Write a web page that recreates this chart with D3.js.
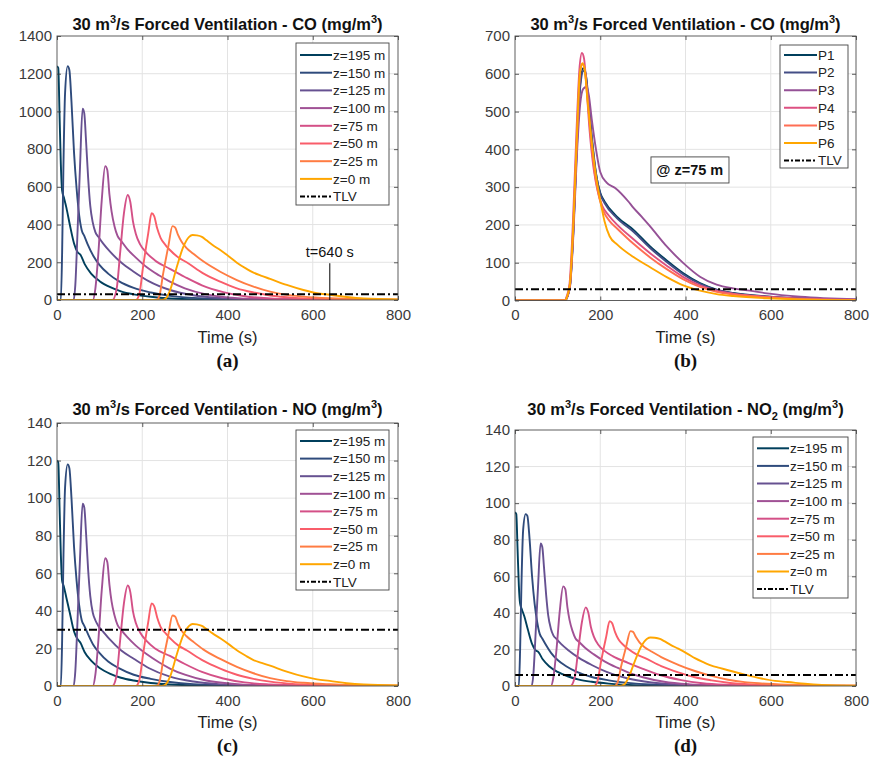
<!DOCTYPE html>
<html>
<head>
<meta charset="utf-8">
<script src="https://cdn.jsdelivr.net/npm/d3@7"></script>
<style>
  body { margin: 0; background: #fff; }
  text { font-family: "Liberation Sans", Arial, sans-serif; }
</style>
</head>
<body>
<svg id="fig" width="870" height="758"></svg>
<script>
// ---- data (time in s, concentration in mg/m3) ----
const zLabels = ["z=195 m", "z=150 m", "z=125 m", "z=100 m", "z=75 m", "z=50 m", "z=25 m", "z=0 m"];
const pLabels = ["P1", "P2", "P3", "P4", "P5", "P6"];
const zColors = ["#003f5c", "#2f4b7c", "#665191", "#a05195", "#d45087", "#f95d6a", "#ff7c43", "#ffa600"];
const pColors = ["#003f5c", "#444e86", "#955196", "#dd5182", "#ff6e54", "#ffa600"];
const xTicks = [0, 200, 400, 600, 800];

// TLV levels
const tlvCO = 30, tlvNO = 30, tlvNO2 = 6;

// (a) CO along the tunnel
const coZ = [
  [[0,1240],[3,1230],[6,980],[9,720],[12,580],[16,545],[22,490],[30,400],[40,300],[48,255],[55,240],[65,190],[80,140],[100,100],[125,68],[150,46],[180,30],[220,17],[265,8],[330,3],[450,1],[800,0]],
  [[0,0],[9,0],[12,250],[15,700],[19,1100],[25,1240],[29,1220],[34,1050],[40,780],[46,590],[52,450],[58,370],[64,340],[72,295],[85,235],[100,185],[120,140],[145,100],[180,64],[220,40],[265,22],[320,11],[400,5],[500,2],[800,0]],
  [[0,0],[39,0],[43,80],[48,353],[54,707],[60,1015],[64,990],[68,850],[73,650],[78,500],[84,410],[90,360],[97,335],[108,300],[125,255],[150,200],[180,150],[215,100],[265,53],[320,25],[380,11],[460,4],[800,0]],
  [[0,0],[84,0],[90,60],[97,247],[105,530],[113,710],[118,690],[123,560],[128,470],[135,390],[142,340],[150,315],[165,270],[185,225],[210,175],[240,130],[265,97],[300,62],[350,30],[410,12],[480,4],[800,0]],
  [[0,0],[130,0],[140,60],[148,247],[157,459],[166,557],[172,520],[178,420],[185,350],[195,295],[210,250],[230,210],[265,165],[300,122],[340,78],[390,42],[440,20],[500,8],[580,2],[800,0]],
  [[0,0],[185,0],[193,30],[202,177],[214,353],[222,460],[228,445],[235,380],[243,330],[255,290],[265,265],[285,225],[304,200],[343,141],[383,97],[422,62],[461,40],[500,24],[560,11],[640,4],[800,1]],
  [[0,0],[233,0],[240,20],[249,140],[261,283],[271,392],[277,385],[284,345],[292,310],[304,275],[320,245],[343,205],[383,150],[422,106],[461,71],[500,44],[539,27],[578,18],[640,9],[720,3],[800,1]],
  [[0,0],[245,0],[255,8],[265,50],[281,175],[296,280],[310,335],[318,345],[328,343],[340,335],[350,318],[365,292],[383,265],[405,228],[422,198],[445,165],[461,145],[480,128],[500,112],[539,80],[578,53],[610,36],[640,28],[680,16],[720,8],[800,3]]
];

// (b) CO at z=75 m, points P1..P6
const coP = [
  [[0,0],[118,0],[122,8],[129,40],[137,190],[145,410],[153,575],[160,615],[165,605],[172,530],[180,430],[190,335],[200,285],[210,262],[239,222],[278,187],[317,143],[356,106],[395,72],[434,46],[473,29],[512,20],[591,11],[669,6],[800,2]],
  [[0,0],[118,0],[122,8],[129,38],[137,185],[145,400],[153,565],[161,608],[166,598],[173,525],[181,425],[191,330],[200,282],[210,258],[239,218],[278,182],[317,139],[356,102],[395,69],[434,44],[473,28],[512,19],[591,10],[669,5],[800,2]],
  [[0,0],[118,0],[122,8],[129,36],[137,175],[145,380],[153,520],[160,560],[167,565],[173,545],[180,480],[190,400],[200,340],[215,312],[235,298],[266,262],[278,245],[297,222],[317,196],[356,143],[395,99],[434,63],[473,42],[512,32],[551,26],[591,19],[669,10],[800,3]],
  [[0,0],[117,0],[121,10],[128,45],[136,210],[144,440],[151,610],[157,655],[162,640],[168,560],[175,450],[185,345],[195,285],[205,250],[220,225],[240,200],[278,162],[317,125],[356,92],[395,62],[434,40],[473,26],[512,18],[591,10],[669,5],[800,2]],
  [[0,0],[118,0],[122,9],[129,42],[137,200],[145,420],[152,590],[158,625],[163,615],[170,540],[178,430],[188,330],[198,270],[208,235],[222,210],[240,190],[278,150],[317,114],[356,83],[395,56],[434,36],[473,23],[512,16],[591,9],[669,4],[800,1]],
  [[0,0],[118,0],[122,10],[129,45],[137,205],[145,430],[152,600],[158,628],[163,615],[170,530],[180,420],[190,330],[200,265],[210,210],[222,170],[240,148],[278,115],[317,88],[356,62],[395,40],[434,26],[473,17],[512,12],[591,6],[669,3],[800,1]]
];

// (c) NO along the tunnel
const noZ = [
  [[0,120],[3,119],[6,95],[9,70],[12,56],[16,53],[22,47],[30,39],[40,29],[48,25],[55,23],[65,18],[80,13.5],[100,9.6],[125,6.5],[150,4.4],[180,2.9],[220,1.6],[265,0.8],[330,0.3],[450,0.1],[800,0]],
  [[0,0],[9,0],[12,24],[15,67],[19,106],[25,118],[29,116],[34,100],[40,74],[46,56],[52,43],[58,35],[64,32],[72,28],[85,22],[100,17.5],[120,13],[145,9.5],[180,6],[220,3.8],[265,2.1],[320,1],[400,0.5],[500,0.2],[800,0]],
  [[0,0],[39,0],[43,8],[48,34],[54,68],[60,97],[64,95],[68,82],[73,62],[78,48],[84,39],[90,35],[97,32],[108,29],[125,24.5],[150,19],[180,14.5],[215,9.6],[265,5],[320,2.4],[380,1],[460,0.4],[800,0]],
  [[0,0],[84,0],[90,6],[97,24],[105,51],[113,68],[118,66],[123,54],[128,45],[135,37.5],[142,32.5],[150,30],[165,26],[185,21.5],[210,17],[240,12.5],[265,9.3],[300,6],[350,2.9],[410,1.2],[480,0.4],[800,0]],
  [[0,0],[130,0],[140,6],[148,24],[157,44],[166,53.5],[172,50],[178,40],[185,33.5],[195,28.5],[210,24],[230,20],[265,16],[300,11.7],[340,7.5],[390,4],[440,1.9],[500,0.8],[580,0.2],[800,0]],
  [[0,0],[185,0],[193,3],[202,17],[214,34],[222,44],[228,42.5],[235,36.5],[243,31.5],[255,28],[265,25.5],[285,21.5],[304,19],[343,13.5],[383,9.3],[422,6],[461,3.8],[500,2.3],[560,1],[640,0.4],[800,0.1]],
  [[0,0],[233,0],[240,2],[249,13.5],[261,27],[271,37.5],[277,37],[284,33],[292,29.5],[304,26.5],[320,23.5],[343,19.5],[383,14.4],[422,10.2],[461,6.8],[500,4.2],[539,2.6],[578,1.7],[640,0.9],[720,0.3],[800,0.1]],
  [[0,0],[245,0],[255,0.8],[265,4.8],[281,16.8],[296,27],[310,32],[318,33],[328,32.8],[340,32],[350,30.5],[365,28],[383,25.4],[405,21.9],[422,19],[445,15.8],[461,13.8],[480,12.3],[500,10.8],[539,7.7],[578,5.1],[610,3.5],[640,2.7],[680,1.5],[720,0.8],[800,0.3]]
];

// (d) NO2 along the tunnel
const no2Z = [
  [[0,95],[3,94],[6,75],[9,55],[12,45],[16,42],[22,38],[30,31],[40,23],[48,19.6],[55,18.5],[65,14.6],[80,10.8],[100,7.7],[125,5.2],[150,3.5],[180,2.3],[220,1.3],[265,0.6],[330,0.2],[450,0.1],[800,0]],
  [[0,0],[9,0],[12,20],[15,54],[19,85],[25,94],[29,93],[34,81],[40,60],[46,45],[52,35],[58,28.5],[64,26],[72,22.7],[85,18],[100,14.2],[120,10.8],[145,7.7],[180,4.9],[220,3.1],[265,1.7],[320,0.8],[400,0.4],[500,0.15],[800,0]],
  [[0,0],[39,0],[43,6],[48,27],[54,54],[60,78],[64,76],[68,65],[73,50],[78,38.5],[84,31.5],[90,27.7],[97,25.8],[108,23],[125,19.6],[150,15.4],[180,11.5],[215,7.7],[265,4.1],[320,1.9],[380,0.8],[460,0.3],[800,0]],
  [[0,0],[84,0],[90,4.6],[97,19],[105,41],[113,54.5],[118,53],[123,43],[128,36],[135,30],[142,26],[150,24.2],[165,20.8],[185,17.3],[210,13.5],[240,10],[265,7.5],[300,4.8],[350,2.3],[410,0.9],[480,0.3],[800,0]],
  [[0,0],[130,0],[140,4.6],[148,19],[157,35],[166,43],[172,40],[178,32.3],[185,27],[195,22.7],[210,19.2],[230,16.2],[265,12.7],[300,9.4],[340,6],[390,3.2],[440,1.5],[500,0.6],[580,0.15],[800,0]],
  [[0,0],[185,0],[193,2.3],[202,13.6],[214,27],[222,35.5],[228,34.3],[235,29.3],[243,25.4],[255,22.3],[265,20.4],[285,17.3],[304,15.4],[343,10.9],[383,7.5],[422,4.8],[461,3.1],[500,1.8],[560,0.8],[640,0.3],[800,0.1]],
  [[0,0],[233,0],[240,1.5],[249,10.8],[261,21.8],[271,30],[277,29.6],[284,26.6],[292,23.9],[304,21.2],[320,18.9],[343,15.8],[383,11.6],[422,8.2],[461,5.5],[500,3.4],[539,2.1],[578,1.4],[640,0.7],[720,0.2],[800,0.1]],
  [[0,0],[245,0],[255,0.6],[265,3.9],[281,13.5],[296,21.6],[310,25.8],[318,26.5],[328,26.4],[340,25.8],[350,24.5],[365,22.5],[383,20.4],[405,17.6],[422,15.2],[445,12.7],[461,11.1],[480,9.9],[500,8.6],[539,6.2],[578,4.1],[610,2.8],[640,2.2],[680,1.2],[720,0.6],[800,0.2]]
];

// ---- layout ----
const svg = d3.select("#fig");

const panels = [
  { id: "a", left: 57, right: 398, top: 36, bottom: 300, yMax: 1400, yStep: 200, tlv: tlvCO,
    series: coZ, labels: zLabels, colors: zColors,
    title: [["30 m"], ["3", "sup"], ["/s Forced Ventilation - CO (mg/m"], ["3", "sup"], [")"]],
    titleY: 30, xlabelY: 343, capY: 367,
    legend: { x: 296, y: 43, w: 93, h: 162, row0: 55, dy: 17.7, l0: 300, l1: 332 } },
  { id: "b", left: 515, right: 856, top: 36, bottom: 300.5, yMax: 700, yStep: 100, tlv: tlvCO,
    series: coP, labels: pLabels, colors: pColors,
    title: [["30 m"], ["3", "sup"], ["/s Forced Ventilation - CO (mg/m"], ["3", "sup"], [")"]],
    titleY: 30, xlabelY: 343, capY: 367,
    legend: { x: 780, y: 45, w: 68, h: 123, row0: 55, dy: 17.6, l0: 784, l1: 817 } },
  { id: "c", left: 57, right: 398, top: 423, bottom: 686, yMax: 140, yStep: 20, tlv: tlvNO,
    series: noZ, labels: zLabels, colors: zColors,
    title: [["30 m"], ["3", "sup"], ["/s Forced Ventilation - NO (mg/m"], ["3", "sup"], [")"]],
    titleY: 415, xlabelY: 728, capY: 752,
    legend: { x: 296, y: 430, w: 93, h: 160, row0: 441, dy: 17.6, l0: 300, l1: 332 } },
  { id: "d", left: 515, right: 856, top: 430, bottom: 686, yMax: 140, yStep: 20, tlv: tlvNO2,
    series: no2Z, labels: zLabels, colors: zColors,
    title: [["30 m"], ["3", "sup"], ["/s Forced Ventilation - NO"], ["2", "sub"], [" (mg/m"], ["3", "sup"], [")"]],
    titleY: 415, xlabelY: 728, capY: 752,
    legend: { x: 753, y: 437, w: 95, h: 161, row0: 448.3, dy: 17.6, l0: 757, l1: 789 } }
];

const axisColor = "#333";

function drawPanel(p) {
  const g = svg.append("g").attr("class", "panel-" + p.id);
  const x = d3.scaleLinear().domain([0, 800]).range([p.left, p.right]);
  const y = d3.scaleLinear().domain([0, p.yMax]).range([p.bottom, p.top]);
  const yTicks = d3.range(0, p.yMax + 1, p.yStep);
  const cx = (p.left + p.right) / 2;

  // grid
  g.append("g").selectAll("line").data(xTicks.slice(1, -1)).join("line")
    .attr("x1", d => x(d)).attr("x2", d => x(d))
    .attr("y1", p.top).attr("y2", p.bottom)
    .attr("stroke", "#e3e3e3").attr("stroke-width", 1);
  g.append("g").selectAll("line").data(yTicks.slice(1, -1)).join("line")
    .attr("y1", d => y(d)).attr("y2", d => y(d))
    .attr("x1", p.left).attr("x2", p.right)
    .attr("stroke", "#e3e3e3").attr("stroke-width", 1);

  // curves
  const clipId = "clip-" + p.id;
  g.append("clipPath").attr("id", clipId).append("rect")
    .attr("x", p.left).attr("y", p.top)
    .attr("width", p.right - p.left).attr("height", p.bottom - p.top);

  const line = d3.line()
    .x(d => x(d[0]))
    .y(d => y(d[1]))
    .curve(d3.curveMonotoneX);

  const plot = g.append("g").attr("clip-path", `url(#${clipId})`);
  plot.selectAll("path.series").data(p.series).join("path")
    .attr("class", "series")
    .attr("d", line)
    .attr("fill", "none")
    .attr("stroke", (d, i) => p.colors[i])
    .attr("stroke-width", 1.9)
    .attr("stroke-linejoin", "round");

  // TLV
  plot.append("line")
    .attr("x1", x(0)).attr("x2", x(800))
    .attr("y1", y(p.tlv)).attr("y2", y(p.tlv))
    .attr("stroke", "#000").attr("stroke-width", 2)
    .attr("stroke-dasharray", "8,3,2,3");

  // axes (ticks pointing inward, MATLAB style)
  const xAxisG = g.append("g")
    .attr("transform", `translate(0,${p.bottom})`)
    .call(d3.axisBottom(x).tickValues(xTicks).tickSize(-4).tickPadding(9).tickFormat(d3.format("d")));
  const yAxisG = g.append("g")
    .attr("transform", `translate(${p.left},0)`)
    .call(d3.axisLeft(y).tickValues(yTicks).tickSize(-4).tickPadding(5).tickFormat(d3.format("d")));
  g.append("g")
    .attr("transform", `translate(0,${p.top})`)
    .call(d3.axisTop(x).tickValues(xTicks).tickSize(-4).tickFormat(""));
  g.append("g")
    .attr("transform", `translate(${p.right},0)`)
    .call(d3.axisRight(y).tickValues(yTicks).tickSize(-4).tickFormat(""));
  g.selectAll(".domain").remove();
  g.selectAll(".tick line").attr("stroke", axisColor).attr("stroke-width", 0.8);
  [xAxisG, yAxisG].forEach(a => a.selectAll("text")
    .attr("fill", "#3a3a3a").style("font-size", "15px")
    .style("font-family", '"Liberation Sans", Arial, sans-serif'));

  g.append("rect")
    .attr("x", p.left).attr("y", p.top)
    .attr("width", p.right - p.left).attr("height", p.bottom - p.top)
    .attr("fill", "none").attr("stroke", "#4d4d4d").attr("stroke-width", 0.9);

  // title
  const t = g.append("text")
    .attr("x", cx).attr("y", p.titleY)
    .attr("text-anchor", "middle")
    .style("font-size", "16.5px").style("font-weight", "bold").attr("fill", "#111");
  let shift = 0;
  p.title.forEach(([s, kind]) => {
    const sp = t.append("tspan").text(s);
    if (kind === "sup") { sp.attr("dy", -7 - shift).style("font-size", "11px"); shift = -7; }
    else if (kind === "sub") { sp.attr("dy", 5 - shift).style("font-size", "11px"); shift = 5; }
    else { if (shift !== 0) sp.attr("dy", -shift); shift = 0; }
  });

  // x label and caption
  g.append("text").attr("x", cx).attr("y", p.xlabelY)
    .attr("text-anchor", "middle").style("font-size", "16.5px").attr("fill", "#222")
    .text("Time (s)");
  g.append("text").attr("x", cx).attr("y", p.capY)
    .attr("text-anchor", "middle")
    .style("font-family", '"Liberation Serif", "Times New Roman", serif')
    .style("font-size", "19px").style("font-weight", "bold").attr("fill", "#111")
    .text(`(${p.id})`);

  // legend
  const L = p.legend;
  const lg = g.append("g");
  lg.append("rect").attr("x", L.x).attr("y", L.y).attr("width", L.w).attr("height", L.h)
    .attr("fill", "#fff").attr("stroke", "#444").attr("stroke-width", 0.9);
  const entries = p.labels.map((lab, i) => ({ lab, color: p.colors[i], dash: null }))
    .concat([{ lab: "TLV", color: "#000", dash: "5,2,2,2" }]);
  const row = lg.selectAll("g.entry").data(entries).join("g")
    .attr("class", "entry")
    .attr("transform", (d, i) => `translate(0,${L.row0 + i * L.dy})`);
  row.append("line").attr("x1", L.l0).attr("x2", L.l1)
    .attr("stroke", d => d.color).attr("stroke-width", 2)
    .attr("stroke-dasharray", d => d.dash);
  row.append("text").attr("x", L.l1 + 1).attr("dy", "0.36em")
    .style("font-size", "13.5px").attr("fill", "#222")
    .text(d => d.lab);

  return { g, x, y };
}

const drawn = panels.map(drawPanel);

// (a) annotation: last curve under TLV
{
  const { g, x, y } = drawn[0];
  g.append("line").attr("x1", x(640)).attr("x2", x(640))
    .attr("y1", y(0)).attr("y2", y(195))
    .attr("stroke", "#000").attr("stroke-width", 1);
  g.append("text").attr("x", x(640)).attr("y", y(228))
    .attr("text-anchor", "middle").style("font-size", "14.5px").attr("fill", "#111")
    .text("t=640 s");
}

// (b) annotation box
{
  const { g, x, y } = drawn[1];
  g.append("rect").attr("x", x(319)).attr("y", y(380))
    .attr("width", x(502) - x(319)).attr("height", y(311) - y(380))
    .attr("fill", "#fff").attr("stroke", "#444").attr("stroke-width", 0.9);
  g.append("text").attr("x", x(410)).attr("y", y(345)).attr("dy", "0.36em")
    .attr("text-anchor", "middle").style("font-size", "14.5px").style("font-weight", "bold")
    .attr("fill", "#111").text("@ z=75 m");
}
</script>
</body>
</html>
